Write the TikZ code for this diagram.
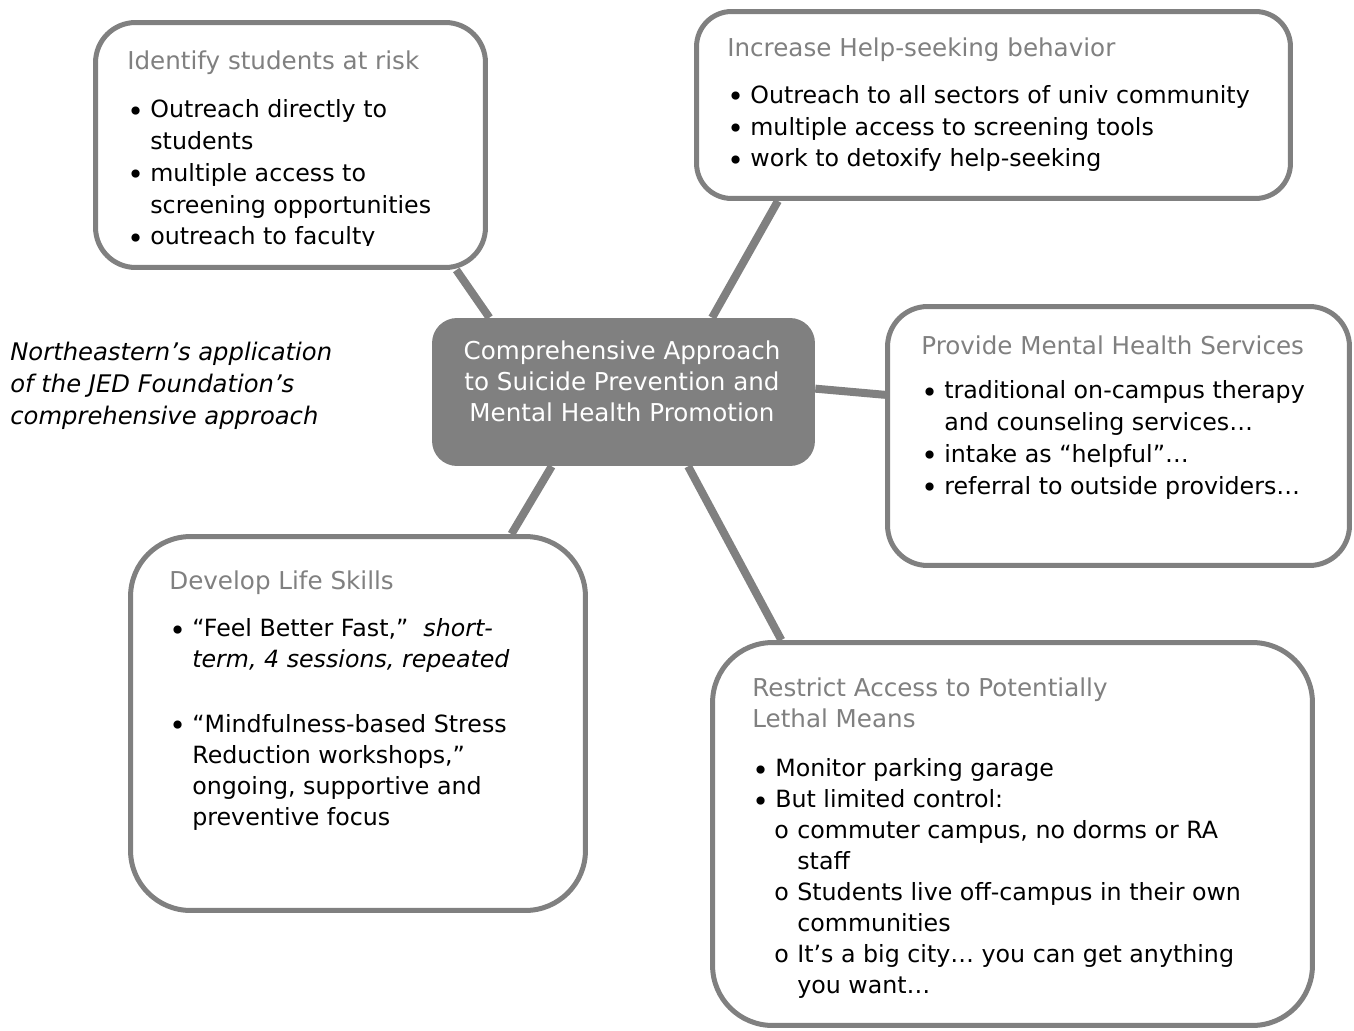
\documentclass[tikz,border=0pt]{standalone}
\usepackage{fontspec}
\setmainfont{DejaVu Sans}[ItalicFont={DejaVu Sans Oblique}]
\usetikzlibrary{backgrounds}

\definecolor{boxgray}{RGB}{128,128,128}
\definecolor{titlegray}{RGB}{128,128,128}

\newcommand{\bul}{\makebox[0.46cm][l]{\raisebox{-0.15em}{\fontsize{16}{16}\selectfont\textbullet}}}
\newcommand{\ind}{\hspace*{0.46cm}}
\newcommand{\subitm}{\hspace*{0.44cm}\makebox[0.46cm][l]{o}}
\newcommand{\subind}{\hspace*{0.90cm}}
\newcommand{\boxtitle}[1]{{\fontsize{14}{17.9}\selectfont\color{titlegray}#1}}

\begin{document}
\begin{tikzpicture}[x=0.02cm, y=-0.02cm,
  topic/.style={rectangle, draw=boxgray, line width=0.1cm, fill=white, inner sep=0pt},
  hubbox/.style={rectangle, rounded corners=0.5cm, fill=boxgray, inner sep=0pt},
  body/.style={anchor=base west, align=left, inner sep=0pt, font=\fontsize{13.5}{18.1}\selectfont},
  link/.style={draw=boxgray, line width=0.16cm}]

\useasboundingbox (0, 0) rectangle (1354, 1030);

% Centre box (anchors of the texts sit on their last line)
\node (hub) at (623.5, 392) [hubbox, minimum width=7.66cm, minimum height=2.96cm] {};
\node (hubtxt) at (622, 421) [anchor=base, align=center, inner sep=0pt, text=white, font=\fontsize{14}{17.6}\selectfont] {Comprehensive Approach\\to Suicide Prevention and\\Mental Health Promotion};

% Top-left box
\node (ident) at (290.5, 145) [topic, rounded corners=0.8cm, minimum width=7.8cm, minimum height=4.9cm] {};
\begin{scope}
\clip (93, 20) rectangle (488, 245.5);
\node (identtxt) at (127, 245) [body] {\boxtitle{Identify students at risk}\\[0.33cm]
  \bul Outreach directly to\\
  \ind students\\
  \bul multiple access to\\
  \ind screening opportunities\\
  \bul outreach to faculty};
\end{scope}

% Top-right box
\node (helpseek) at (993.5, 105) [topic, rounded corners=0.7cm, minimum width=11.88cm, minimum height=3.74cm] {};
\node (helpseektxt) at (727, 167) [body] {\boxtitle{Increase Help-seeking behavior}\\[0.31cm]
  \bul Outreach to all sectors of univ community\\
  \bul multiple access to screening tools\\
  \bul work to detoxify help-seeking};

% Right box
\node (services) at (1118.5, 436) [topic, rounded corners=0.8cm, minimum width=9.24cm, minimum height=5.18cm] {};
\node (servicestxt) at (921, 494) [body] {\boxtitle{Provide Mental Health Services}\\[0.25cm]
  \bul traditional on-campus therapy\\
  \ind and counseling services…\\
  \bul intake as “helpful”…\\
  \bul referral to outside providers…};

% Bottom-left box
\node (skills) at (358, 723.5) [topic, rounded corners=1.2cm, minimum width=9.1cm, minimum height=7.48cm] {};
\node (skillstxt) at (169, 825) [body, font=\fontsize{13.5}{17.6}\selectfont] {\boxtitle{Develop Life Skills}\\[0.33cm]
  \bul “Feel Better Fast,”\ \ \textit{short-}\\
  \ind\textit{term, 4 sessions, repeated}\\[0.67cm]
  \bul “Mindfulness-based Stress\\
  \ind Reduction workshops,”\\
  \ind ongoing, supportive and\\
  \ind preventive focus};

% Bottom-right box
\node (means) at (1012.5, 834) [topic, rounded corners=1.2cm, minimum width=12.0cm, minimum height=7.66cm] {};
\node (meanstxt) at (752, 993) [body, font=\fontsize{13.5}{17.6}\selectfont] {\boxtitle{Restrict Access to Potentially}\\
  \boxtitle{Lethal Means}\\[0.37cm]
  \bul Monitor parking garage\\
  \bul But limited control:\\
  \subitm commuter campus, no dorms or RA\\
  \subind staff\\
  \subitm Students live off-campus in their own\\
  \subind communities\\
  \subitm It’s a big city… you can get anything\\
  \subind you want…};

% note on the left
\node (note) at (10, 424) [anchor=base west, align=left, inner sep=0pt, font=\fontsize{13.8}{18.1}\selectfont\itshape] {Northeastern’s application\\of the JED Foundation’s\\comprehensive approach};

% spokes
\begin{scope}[on background layer]
\draw[link] (ident.-37) -- (hub.151);
\draw[link] (helpseek.-156.5) -- (hub.40);
\draw[link] (services.170.5) -- (hub.1);
\draw[link] (skills.51) -- (hub.-134);
\draw[link] (means.140) -- (hub.-49);
\end{scope}

\end{tikzpicture}
\end{document}
